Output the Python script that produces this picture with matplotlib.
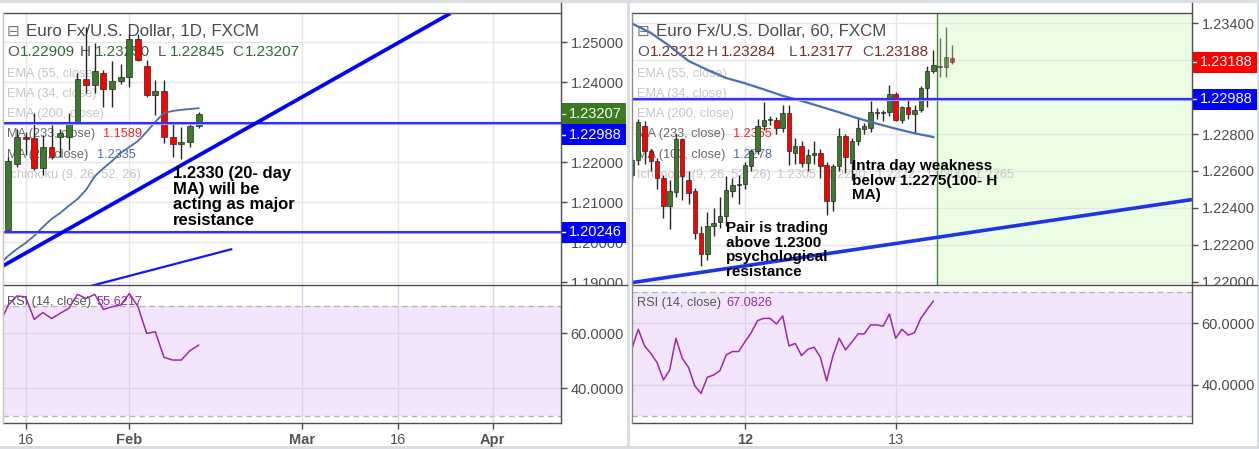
import numpy as np
import matplotlib.pyplot as plt
from matplotlib.patches import Rectangle
from matplotlib.lines import Line2D
from matplotlib.transforms import blended_transform_factory

plt.rcParams['font.family'] = ['Liberation Sans', 'DejaVu Sans']

# ---- EUR/USD daily bars, 12 Jan .. 13 Feb
d1_open  = [1.2031, 1.2195, 1.2264, 1.2260, 1.2185, 1.2239, 1.2264, 1.2264, 1.2297, 1.2408, 1.2393, 1.2424,
            1.2383, 1.2403, 1.2413, 1.2508, 1.2440, 1.2367, 1.2378, 1.2262, 1.2246, 1.2250, 1.22909]
d1_high  = [1.2212, 1.2282, 1.2275, 1.2322, 1.2268, 1.2293, 1.2283, 1.2322, 1.2423, 1.2539, 1.2498, 1.2430,
            1.2452, 1.2445, 1.2520, 1.2520, 1.2456, 1.2406, 1.2406, 1.2297, 1.2289, 1.2299, 1.23250]
d1_low   = [1.2026, 1.2188, 1.2218, 1.2180, 1.2168, 1.2208, 1.2214, 1.2230, 1.2295, 1.2373, 1.2373, 1.2339,
            1.2339, 1.2395, 1.2388, 1.2452, 1.2362, 1.2318, 1.2248, 1.2214, 1.2207, 1.2238, 1.22845]
d1_close = [1.2202, 1.2264, 1.2259, 1.2185, 1.2239, 1.2214, 1.2272, 1.2298, 1.2408, 1.2393, 1.2429, 1.2383,
            1.2403, 1.2413, 1.2508, 1.2456, 1.2367, 1.2378, 1.2262, 1.2246, 1.2250, 1.2291, 1.23207]
# 20-day MA and RSI(14) start one bar before the first visible candle
d1_ma20 = [1.1945, 1.1966, 1.1983, 1.1998, 1.2016, 1.2038, 1.2058, 1.2073, 1.2091, 1.2108, 1.2131, 1.2165,
           1.2185, 1.2203, 1.2223, 1.2238, 1.2253, 1.2276, 1.2301, 1.2323, 1.2328, 1.2331, 1.2333, 1.2335]
d1_rsi = [63.5, 70.2, 73.5, 73.2, 65.0, 67.5, 65.3, 67.2, 69.0, 74.1, 72.6, 74.1,
          68.6, 69.6, 70.2, 74.4, 69.6, 59.9, 60.5, 51.2, 50.2, 50.2, 53.6, 55.6217]
d1_tick_pos = [2, 14, 34, 45, 56]
d1_tick_lbl = ['16', 'Feb', 'Mar', '16', 'Apr']
d1_tick_bold = [False, True, True, False, True]
d1_levels = [1.22988, 1.20246]
d1_trend = ([-0.76, 51.1], [1.1939, 1.2572])
d1_trend2 = ([5.0, 25.9], [1.1865, 1.1983])

# ---- EUR/USD hourly bars, index 0 = 12 Feb 00:00
h1_open  = [1.22580, 1.22661, 1.22841, 1.22706, 1.22652, 1.22562, 1.22409, 1.22484, 1.22773, 1.22553,
            1.22490, 1.22265, 1.22148, 1.22301, 1.22322, 1.22355, 1.22490, 1.22526, 1.22531, 1.22625,
            1.22706, 1.22841, 1.22877, 1.22874, 1.22832, 1.22914, 1.22700, 1.22733, 1.22643, 1.22688,
            1.22700, 1.22634, 1.22436, 1.22625, 1.22787, 1.22643, 1.22760, 1.22829, 1.22832, 1.22917,
            1.22913, 1.22917, 1.23018, 1.22874, 1.22946, 1.22910, 1.22928, 1.23049, 1.23142, 1.23170,
            1.23165, 1.23212]
h1_high  = [1.22680, 1.22880, 1.22870, 1.22720, 1.22670, 1.22580, 1.22553, 1.22800, 1.22780, 1.22600,
            1.22510, 1.22300, 1.22375, 1.22400, 1.22460, 1.22570, 1.22560, 1.22580, 1.22650, 1.22720,
            1.22880, 1.22976, 1.22900, 1.22890, 1.22958, 1.22960, 1.22780, 1.22760, 1.22720, 1.22760,
            1.22720, 1.22650, 1.22640, 1.22832, 1.22800, 1.22780, 1.22895, 1.22860, 1.22980, 1.22940,
            1.22930, 1.23066, 1.23030, 1.22950, 1.22990, 1.22960, 1.23060, 1.23170, 1.23256, 1.23319,
            1.23378, 1.23284]
h1_low   = [1.22560, 1.22630, 1.22640, 1.22600, 1.22500, 1.22346, 1.22283, 1.22460, 1.22445, 1.22420,
            1.22230, 1.22084, 1.22120, 1.22250, 1.22290, 1.22300, 1.22460, 1.22420, 1.22500, 1.22600,
            1.22690, 1.22820, 1.22850, 1.22800, 1.22810, 1.22630, 1.22640, 1.22620, 1.22600, 1.22640,
            1.22560, 1.22364, 1.22382, 1.22600, 1.22589, 1.22553, 1.22740, 1.22800, 1.22810, 1.22880,
            1.22870, 1.22900, 1.22870, 1.22860, 1.22880, 1.22807, 1.22920, 1.22949, 1.23130, 1.23108,
            1.23111, 1.23177]
h1_close = [1.22661, 1.22868, 1.22706, 1.22652, 1.22562, 1.22409, 1.22490, 1.22773, 1.22571, 1.22481,
            1.22265, 1.22148, 1.22301, 1.22319, 1.22358, 1.22499, 1.22526, 1.22531, 1.22633, 1.22706,
            1.22841, 1.22877, 1.22880, 1.22832, 1.22914, 1.22706, 1.22733, 1.22643, 1.22688, 1.22700,
            1.22625, 1.22436, 1.22625, 1.22787, 1.22676, 1.22760, 1.22832, 1.22841, 1.22917, 1.22913,
            1.22917, 1.23018, 1.22874, 1.22946, 1.22910, 1.22928, 1.23049, 1.23142, 1.23174, 1.23165,
            1.23216, 1.23188]
h1_first = -18
# 100-hour MA sampled every third bar
h1_ma100 = [1.23399, 1.23348, 1.23277, 1.23196, 1.23148, 1.23104, 1.23075, 1.23042, 1.23007,
            1.22980, 1.22949, 1.22918, 1.22885, 1.22856, 1.22829, 1.22804, 1.22784]
h1_rsi = [51.8, 58.0, 52.6, 50.2, 47.2, 41.6, 44.8, 55.1, 48.6, 45.7, 39.7, 37.3, 42.5, 43.2, 44.6, 49.7,
          50.8, 50.8, 54.0, 56.9, 60.8, 61.5, 61.5, 59.7, 62.3, 52.6, 53.4, 49.5, 51.5, 52.2, 49.0, 41.3,
          49.4, 55.1, 51.3, 53.8, 56.5, 56.5, 59.4, 59.4, 59.0, 62.9, 55.1, 58.0, 56.1, 56.9, 61.5, 64.4,
          67.0826]
h1_tick_pos = [0, 24]
h1_tick_lbl = ['12', '13']
h1_tick_bold = [True, False]
h1_levels = [1.22988]
h1_trend = ([-18.0, 71.2], [1.21995, 1.22445])
h1_replay = 30.6

W, H = 1259, 449
UP, DOWN = '#3b7b2b', '#ff0000'
WICK = '#262626'
FRAME = '#4f4f4f'
GREY_TXT = '#4d4d4d'
FAINT = '#c6c6c6'
LEVEL = '#1a1aff'
RSI_COL = '#9b27af'

fig = plt.figure(figsize=(W / 100, H / 100), dpi=100, facecolor='#d9dee4')


def fpos(x, y):
    return x / W, 1 - y / H


def fbox(x0, y0, x1, y1):
    return [x0 / W, 1 - y1 / H, (x1 - x0) / W, (y1 - y0) / H]


def hline(x0, x1, y, color=FRAME):
    fig.add_artist(Line2D([x0 / W, x1 / W], [1 - y / H] * 2, transform=fig.transFigure,
                          color=color, lw=1, zorder=3))


def vline(x, y0, y1, color=FRAME):
    fig.add_artist(Line2D([x / W] * 2, [1 - y0 / H, 1 - y1 / H], transform=fig.transFigure,
                          color=color, lw=1, zorder=3))


def label(ax, x, y, s, color, size=9.2, zorder=2, **kw):
    ax.text(*fpos(x, y), s, transform=fig.transFigure, color=color, fontsize=size,
            va='center', ha='left', zorder=zorder, **kw)


def candles(ax, x, o, hi, lo, c, width, min_body, alpha=1.0):
    o, hi, lo, c = (np.asarray(v) for v in (o, hi, lo, c))
    colors = [UP if cc >= oo else DOWN for oo, cc in zip(o, c)]
    ax.vlines(x, lo, hi, color=WICK, lw=1, zorder=3, alpha=alpha)
    ax.bar(x, np.maximum(np.abs(c - o), min_body), bottom=np.minimum(o, c), width=width,
           color=colors, edgecolor=WICK, lw=0.5, zorder=4, alpha=alpha)


def price_tags(ax, tags):
    """Coloured value boxes on the price scale; tick labels they fully cover are dropped."""
    trans = blended_transform_factory(ax.transAxes, ax.transData)
    lo, hi = ax.get_ylim()
    box_h = 21 * (hi - lo) / ax.bbox.height
    w = 65 / ax.bbox.width
    last = None
    spans = []
    for value, color in sorted(tags, reverse=True):
        yc = value
        if last is not None and last - yc < box_h:
            yc = last - box_h
        last = yc
        spans.append((yc - box_h / 2, yc + box_h / 2))
        ax.add_patch(Rectangle((1, yc - box_h / 2), w, box_h, transform=trans, facecolor=color,
                               edgecolor='none', clip_on=False, zorder=6))
        ax.plot([1, 1 + 4 / ax.bbox.width], [yc, yc], transform=trans, color='white', lw=1,
                clip_on=False, zorder=7)
        ax.text(1 + 8 / ax.bbox.width, yc, f'{value:.5f}', transform=trans, color='white',
                fontsize=10.5, va='center', ha='left', zorder=7, clip_on=False)

    def covered(y):
        return any(a <= y <= b for a, b in spans)

    half = 0.3 * box_h
    ticks = ax.get_yticks()
    ax.set_yticks(ticks)
    ax.set_yticklabels(['' if covered(t - half) and covered(t + half) else f'{t:.5f}'
                        for t in ticks])


def level_line(ax, y):
    ax.axhline(y, color='#9a9aff', lw=2.2, zorder=5)
    ax.axhline(y, color=LEVEL, lw=1.2, zorder=5)


def setup(ax, xlim, ylim, yticks, yfmt, xticks, xlbl=None, xbold=None, grid='#e6e6e6'):
    ax.set_xlim(xlim)
    ax.set_ylim(ylim)
    for s in ax.spines.values():
        s.set_visible(False)
    ax.yaxis.tick_right()
    ax.set_yticks(yticks)
    ax.set_yticklabels([yfmt.format(t) for t in yticks])
    ax.tick_params(axis='y', length=4, width=1, color=FRAME, labelsize=10.5,
                   labelcolor=GREY_TXT, pad=3)
    ax.set_xticks(xticks)
    if xlbl is None:
        ax.tick_params(axis='x', length=0, labelbottom=False)
    else:
        ax.set_xticklabels(xlbl)
        ax.tick_params(axis='x', length=4, width=1, color=FRAME, labelsize=10.5,
                       labelcolor='#555555', pad=3)
        for t, b in zip(ax.get_xticklabels(), xbold):
            t.set_fontweight('bold' if b else 'normal')
    ax.grid(True, color=grid, lw=1)


# panel backgrounds
for x0, x1 in [(0, 627), (630, 1257)]:
    fig.add_artist(Rectangle((x0 / W, 1 - 446 / H), (x1 - x0) / W, 443 / H,
                             transform=fig.transFigure, facecolor='white', edgecolor='none',
                             zorder=-1))

axL = fig.add_axes(fbox(3, 13, 561, 285))
axLr = fig.add_axes(fbox(3, 285, 561, 423))
axR = fig.add_axes(fbox(632, 13, 1192, 285))
axRr = fig.add_axes(fbox(632, 285, 1192, 423))

d1_x = np.arange(len(d1_close))
h1_x = np.arange(len(h1_close)) + h1_first

setup(axL, (-0.61, 63.9), (1.1893, 1.2573), [1.19, 1.20, 1.21, 1.22, 1.23, 1.24, 1.25],
      '{:.5f}', d1_tick_pos)
setup(axLr, (-0.61, 63.9), (27.3, 77.5), [40, 60], '{:.4f}', d1_tick_pos, d1_tick_lbl,
      d1_tick_bold, grid='#ddd3e8')
setup(axR, (-18.0, 71.2), (1.21982, 1.23456),
      [1.220, 1.222, 1.224, 1.226, 1.228, 1.230, 1.232, 1.234], '{:.5f}', h1_tick_pos)
setup(axRr, (-18.0, 71.2), (27.7, 72.3), [40, 60], '{:.4f}', h1_tick_pos, h1_tick_lbl,
      h1_tick_bold, grid='#ddd3e8')

# ---- daily chart
candles(axL, d1_x, d1_open, d1_high, d1_low, d1_close, 0.68, 0.00012)
axL.plot(np.arange(len(d1_ma20)) - 1, d1_ma20, color='#4a6da8', lw=1.3, zorder=5)
for lv in d1_levels:
    level_line(axL, lv)
axL.plot(*d1_trend, color='#0000ff', lw=2.7, zorder=5, solid_capstyle='butt')
axL.plot(*d1_trend2, color='#1515ff', lw=1.6, zorder=5, solid_capstyle='butt')
price_tags(axL, [(d1_close[-1], '#3b7a1e'), (d1_levels[0], '#0000ff'), (d1_levels[1], '#0000ff')])

# ---- hourly chart
axR.axvspan(h1_replay, 71.2, color='#ebfde3', zorder=0.5, lw=0)
axR.axvline(h1_replay, color='#3f8a35', lw=1, zorder=2)
live = h1_x <= h1_replay
for mask, a in [(live, 1.0), (~live, 0.65)]:
    candles(axR, h1_x[mask], np.array(h1_open)[mask], np.array(h1_high)[mask],
            np.array(h1_low)[mask], np.array(h1_close)[mask], 0.7, 0.00003, alpha=a)
axR.plot(np.arange(len(h1_ma100)) * 3 + h1_first, h1_ma100, color='#4a6fb5', lw=1.6, zorder=5)
for lv in h1_levels:
    level_line(axR, lv)
axR.plot(*h1_trend, color='#1d34e8', lw=2.6, zorder=5, solid_capstyle='butt')
price_tags(axR, [(h1_close[-1], '#ff0000'), (h1_levels[0], '#0000ff')])

# ---- RSI panes
for ax, x, vals in [(axLr, np.arange(len(d1_rsi)) - 1, d1_rsi),
                    (axRr, np.arange(len(h1_rsi)) + h1_first, h1_rsi)]:
    ax.axhspan(30, 70, color='#f3e6fc', zorder=0, lw=0)
    for lv in (30, 70):
        ax.axhline(lv, color='#b4b4b4', lw=1, ls=(0, (4, 3)), zorder=1)
    ax.plot(x, vals, color=RSI_COL, lw=1.1, zorder=3)

# ---- legends
legend_rows = [('EMA (55, close)', 74), ('EMA (34, close)', 94), ('EMA (200, close)', 114)]
for ax, x0, title, ohlc, ohlc_col, ma_name, ma233, ma_val, ichi in [
        (axL, 7, 'Euro Fx/U.S. Dollar, 1D, FXCM',
         [('O', 7), ('1.22909', 20), ('H', 80), ('1.23250', 95), ('L', 158), ('1.22845', 170),
          ('C', 232), ('1.23207', 245)], '#2f6a35', 'MA (20, close)', ('1.1589', 103),
         ('1.2335', 97), ''),
        (axR, 637, 'Euro Fx/U.S. Dollar, 60, FXCM',
         [('O', 637), ('1.23212', 650), ('H', 707), ('1.23284', 721), ('L', 789), ('1.23177', 799),
          ('C', 862), ('1.23188', 874)], '#7a2c22', 'MA (100, close)', ('1.2365', 733),
         ('1.2278', 733), '1.2305   1.2280   1.2322   1.2300   1.2265')]:
    label(ax, x0, 31, '\u229f', '#777777', size=11, family='DejaVu Sans')
    label(ax, x0 + 19, 32, title, '#4b4b4b', size=12.2)
    for s, px in ohlc:
        label(ax, px, 52, s, '#555555' if s in 'OHLC' else ohlc_col, size=11)
    for s, py in legend_rows:
        label(ax, x0, py, s, FAINT)
    label(ax, x0, 134, 'MA (233, close)', '#6a6a6a')
    label(ax, ma233[1], 134, ma233[0], '#ff2020')
    label(ax, x0, 155, ma_name, '#6a6a6a')
    label(ax, ma_val[1], 155, ma_val[0], '#4a6fb0')
    label(ax, x0, 175, 'Ichimoku (9, 26, 52, 26)', FAINT)
    if ichi:
        label(ax, 777, 175, ichi, FAINT)

label(axLr, 7, 302, 'RSI (14, close)', '#555555')
label(axLr, 97, 302, '55.6217', RSI_COL)
label(axRr, 637, 303, 'RSI (14, close)', '#555555')
label(axRr, 726, 303, '67.0826', RSI_COL)

# ---- notes on the chart
note = dict(fontweight='bold', color='black', va='top', ha='left', linespacing=1.05, zorder=8)
axL.text(*fpos(173, 166), '1.2330 (20- day\nMA) will be\nacting as major\nresistance',
         transform=fig.transFigure, fontsize=12, **note)
axR.text(*fpos(726, 221), 'Pair is trading\nabove 1.2300\npsychological\nresistance',
         transform=fig.transFigure, fontsize=11, **note)
axR.text(*fpos(852, 159), 'Intra day weakness\nbelow 1.2275(100- H\nMA)',
         transform=fig.transFigure, fontsize=11, **note)

# ---- frames
fig.add_artist(Rectangle((562 / W, 1 - 293 / H), 64 / W, 8 / H, transform=fig.transFigure,
                         facecolor='white', edgecolor='none', zorder=2.5))
fig.add_artist(Rectangle((1193 / W, 1 - 293 / H), 63 / W, 8 / H, transform=fig.transFigure,
                         facecolor='white', edgecolor='none', zorder=2.5))
for x0, xa, x1 in [(3, 561, 627), (632, 1192, 1257)]:
    hline(x0, xa, 12.5)
    hline(x0, x1, 285)
    hline(x0, xa, 423)
    vline(xa, 3, 423)
vline(3, 12.5, 423, '#c4c4c4')
vline(632, 12.5, 423, '#8c8c8c')

fig.savefig('out.png', dpi=100, facecolor=fig.get_facecolor())
